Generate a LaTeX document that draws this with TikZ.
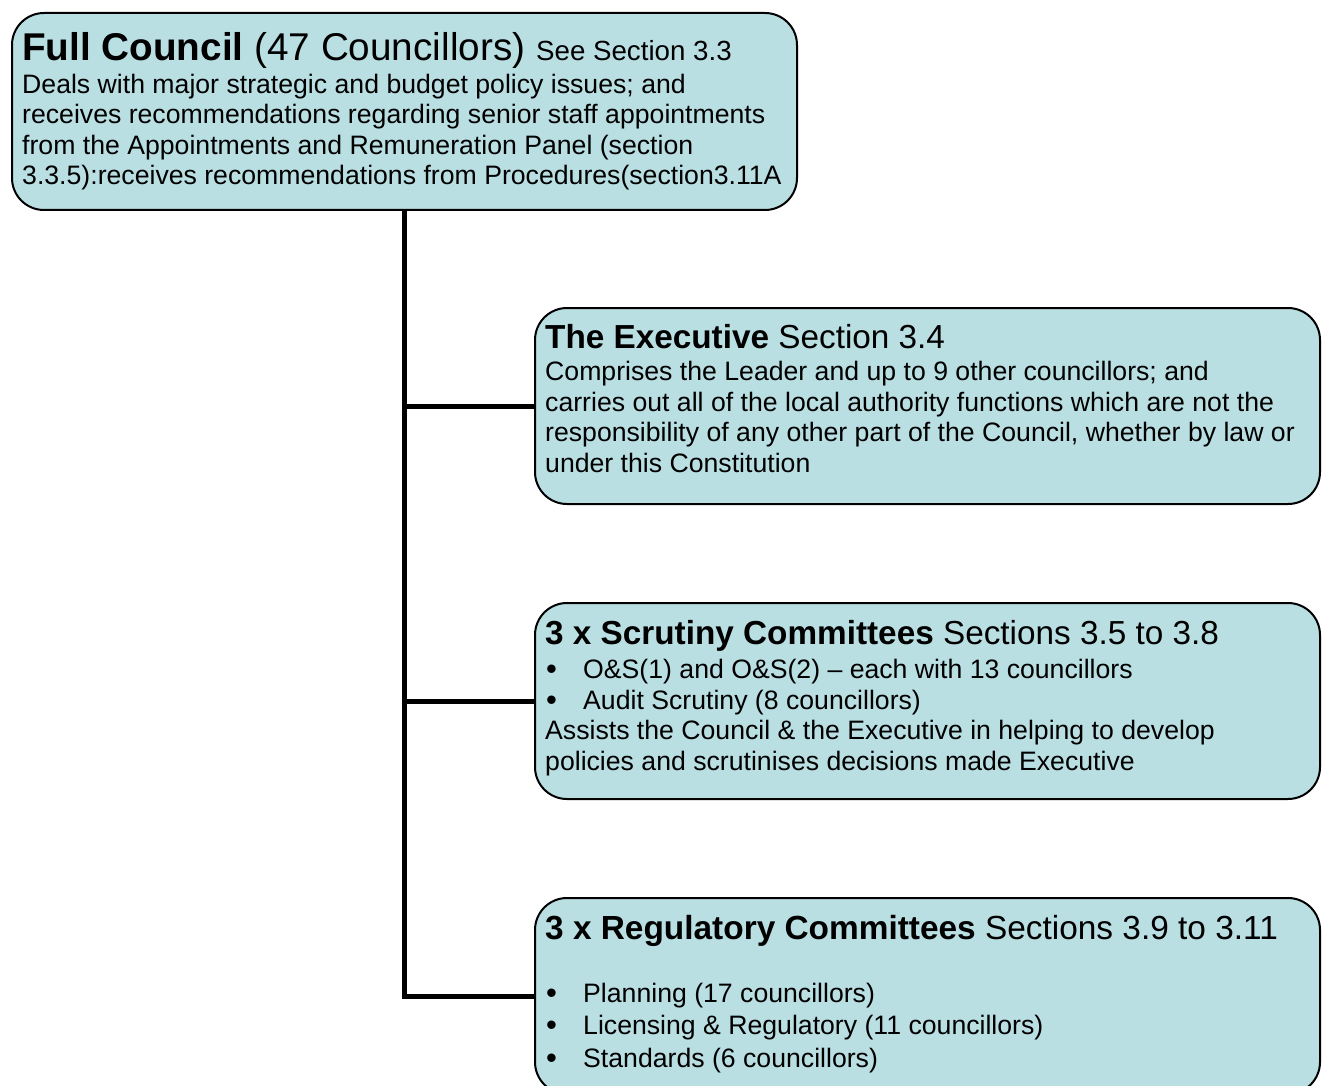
\documentclass[tikz,border=0pt]{standalone}
\usepackage{fontspec}
\setmainfont{Liberation Sans}
\definecolor{boxfill}{HTML}{B9DFE3}
\begin{document}
\begin{tikzpicture}[x=1pt,y=-1pt,
  box/.style={draw=black, line width=2pt, fill=boxfill, rounded corners=32pt,
    minimum width=785pt, minimum height=196pt, anchor=north west, inner sep=0pt},
  conn/.style={line width=5pt},
  body/.style={anchor=base west, inner sep=0pt, align=left,
    font=\fontsize{26.65}{30.5}\selectfont},
  title/.style={anchor=base west, inner sep=0pt}]
\useasboundingbox (0,0) rectangle (1323,1086);
\newcommand{\bul}{\makebox[38pt][l]{\hspace{1pt}\raisebox{-1pt}[0pt][0pt]{\fontsize{31}{30}\selectfont•}}}
% boxes
\node[box, minimum height=197pt] (fc) at (11,12) {};
\node[box] (ex) at (534,307) {};
\node[box] (sc) at (534,602) {};
\node[box] (rg) at (534,897) {};
% connectors
\draw[conn] (fc.south) |- (rg.west);
\draw[conn] (fc.south |- ex.west) -- (ex.west);
\draw[conn] (fc.south |- sc.west) -- (sc.west);
% Full council text
\node[title] (fct) at (22,61) {\fontsize{38.7}{40}\selectfont\textbf{Full Council} (47 Councillors) \fontsize{27.7}{30}\selectfont See Section 3.3};
\node[body] (fcb) at (22,185) {Deals with major strategic and budget policy issues; and\\
receives recommendations regarding senior staff appointments\\
from the Appointments and Remuneration Panel (section\\
3.3.5):receives recommendations from Procedures(section3.11A};
% Executive text
\node[title] (ext) at (545,348) {\fontsize{33.3}{36}\selectfont\textbf{The Executive} Section 3.4};
\node[body] (exb) at (545,472) {Comprises the Leader and up to 9 other councillors; and\\
carries out all of the local authority functions which are not the\\
responsibility of any other part of the Council, whether by law or\\
under this Constitution};
% Scrutiny text
\node[title] (sct) at (545,644) {\fontsize{33.3}{36}\selectfont\textbf{3 x Scrutiny Committees} Sections 3.5 to 3.8};
\node[body] (scb) at (545,770) {\bul O\&S(1) and O\&S(2) -- each with 13 councillors\\
\bul Audit Scrutiny (8 councillors)\\
Assists the Council \& the Executive in helping to develop\\
policies and scrutinises decisions made Executive};
% Regulatory text
\node[title] (rgt) at (545,939) {\fontsize{33.4}{36}\selectfont\textbf{3 x Regulatory Committees} Sections 3.9 to 3.11};
\node[body, font=\fontsize{26.65}{32.2}\selectfont] (rgb) at (545,1067) {\bul Planning (17 councillors)\\
\bul Licensing \& Regulatory (11 councillors)\\
\bul Standards (6 councillors)};
\end{tikzpicture}
\end{document}
